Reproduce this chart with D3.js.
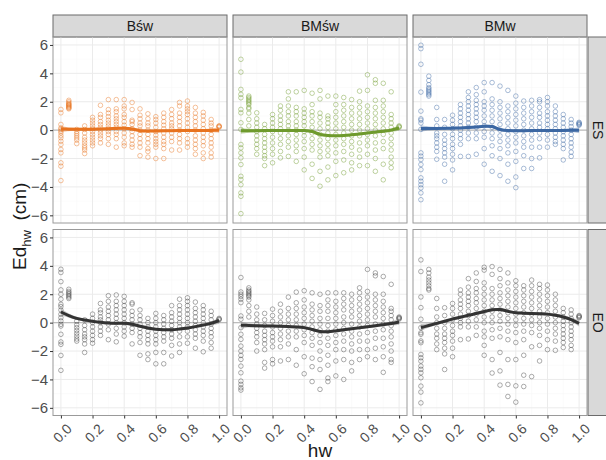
<!DOCTYPE html>
<html>
<head>
<meta charset="utf-8">
<script src="https://cdn.jsdelivr.net/npm/d3@7"></script>
<style>
  body { margin: 0; background: #fff; }
  svg { font-family: "Liberation Sans", Arial, sans-serif; }
</style>
</head>
<body>
<div id="chart"></div>
<script>
// hw positions of the measurement columns
const hw = [0, 0.05, 0.1, 0.15, 0.2, 0.25, 0.3, 0.35, 0.4, 0.45, 0.5,
  0.55, 0.6, 0.65, 0.7, 0.75, 0.8, 0.85, 0.9, 0.95, 1.0];

const colLabels = ["Bśw", "BMśw", "BMw"];
const rowLabels = ["ES", "EO"];
const xTicks = [0, 0.2, 0.4, 0.6, 0.8, 1.0];
const yTicks = [-6, -4, -2, 0, 2, 4, 6];

// Ed_hw values per hw column
const esBsw = [
  [1.46, 1.22, 0.4, 0.16, 0.05, -0.07, -0.19, -0.38, -0.54, -0.78, -1.01, -1.36, -1.6, -2.3, -2.54, -3.55],
  [1.5, 1.55, 1.6, 1.65, 1.7, 1.75, 1.8, 1.85, 1.9, 2.0, 2.1],
  [0.05, -0.1, -0.25, -0.4, -0.55, -0.7, -0.95],
  [0.3, 0.05, -0.2, -0.5, -0.7, -0.9, -1.1, -1.25, -1.4, -1.65],
  [0.9, 0.7, 0.5, 0.3, 0.1, -0.1, -0.3, -0.5, -0.7, -0.9, -1.1],
  [1.75, 1.1, 0.9, 0.6, 0.4, 0.2, 0, -0.2, -0.4, -0.6, -0.9],
  [2.15, 1.45, 1.2, 0.95, 0.7, 0.5, 0.3, 0.1, -0.1, -0.3, -0.6, -1.0],
  [2.15, 1.5, 1.3, 1.0, 0.8, 0.6, 0.4, 0.2, -0.1, -0.3, -0.6, -1.2],
  [2.15, 1.7, 1.5, 1.1, 0.9, 0.6, 0.35, 0.1, -0.2, -0.5, -0.9, -1.1],
  [1.95, 1.45, 0.7, 0.6, 0.4, 0.1, -0.1, -0.4, -0.7, -1.0, -1.2],
  [1.5, 1.05, 0.8, 0.5, 0.3, 0, -0.3, -0.6, -0.9, -1.2, -1.8],
  [1.15, 0.8, 0.5, 0.3, 0, -0.3, -0.6, -0.9, -1.3, -1.5, -1.9],
  [0.95, 0.75, 0.5, 0.2, -0.1, -0.35, -0.6, -0.8, -1.0, -1.2, -2.0],
  [1.2, 0.9, 0.6, 0.35, 0.1, -0.2, -0.5, -0.8, -1.0, -1.3, -2.0],
  [1.45, 1.1, 0.8, 0.5, 0.3, 0.1, -0.2, -0.5, -0.8, -1.4],
  [1.95, 1.7, 1.2, 0.9, 0.6, 0.3, 0, -0.3, -0.6, -0.9, -1.4],
  [2.05, 1.7, 1.5, 1.3, 1.1, 0.8, 0.5, 0.2, -0.1, -0.6, -0.9, -1.2],
  [1.6, 1.2, 0.9, 0.6, 0.3, 0, -0.4, -0.7, -1.0, -1.3, -1.7],
  [1.25, 1.0, 0.7, 0.4, 0.1, -0.2, -0.5, -0.8, -1.1, -1.6, -2.0],
  [0.75, 0.5, 0.3, 0, -0.3, -0.6, -0.9, -1.2, -1.6, -1.9],
  [0.2, 0.25, 0.3, 0.28]
];
const esBMsw = [
  [4.99, 4.09, 2.87, 2.52, 2.28, 1.46, 1.22, 0.52, 0.05, -1.01, -1.25, -1.6, -1.95, -2.42, -3.25, -3.48, -3.84, -4.42, -4.66, -5.88],
  [2.4, 2.3, 2.2, 2.1, 2.0, 1.9, 1.8, 1.6, 1.5, 1.2, 0.75, 0.3],
  [1.22, 0.8, 0.5, 0.2, -0.1, -0.4, -0.7, -1.0, -1.3, -1.7],
  [0.4, 0.1, -0.3, -0.6, -0.9, -1.2, -1.5, -1.8, -2.0, -2.5],
  [1.1, 0.8, 0.5, 0.2, -0.1, -0.5, -0.9, -1.3, -1.7, -2.3],
  [1.7, 1.4, 1.0, 0.7, 0.4, 0.1, -0.2, -0.6, -1.0, -1.5, -1.95],
  [2.7, 2.2, 1.7, 1.3, 1.0, 0.6, 0.3, 0, -0.4, -0.8, -1.2, -1.85],
  [2.7, 1.6, 1.3, 1.0, 0.6, 0.3, 0, -0.3, -0.7, -1.1, -1.5, -2.2],
  [2.8, 1.5, 1.2, 0.9, 0.6, 0.3, -0.1, -0.4, -0.8, -1.3, -1.9, -2.8],
  [2.6, 1.8, 1.3, 1.0, 0.6, 0.2, -0.2, -0.6, -1.0, -1.4, -2.4, -3.4],
  [2.8, 2.2, 1.2, 0.9, 0.5, 0.1, -0.3, -0.7, -1.1, -1.5, -1.9, -2.9, -3.95],
  [2.4, 1.0, 0.8, 0.5, 0.2, -0.2, -0.6, -1.0, -1.4, -1.8, -2.6, -3.5],
  [2.4, 1.8, 1.3, 0.9, 0.5, 0.1, -0.3, -0.7, -1.1, -1.6, -2.2, -3.2],
  [2.3, 1.8, 1.4, 1.0, 0.6, 0.2, -0.2, -0.6, -1.0, -1.5, -2.1, -3.0],
  [2.15, 1.6, 1.2, 0.8, 0.4, 0, -0.4, -0.8, -1.2, -1.7, -2.3, -2.8],
  [2.75, 2.0, 1.6, 1.2, 0.8, 0.4, 0, -0.4, -0.9, -1.4, -1.9, -2.5],
  [3.9, 2.8, 1.7, 1.3, 0.9, 0.5, 0.1, -0.3, -0.7, -1.1, -1.7, -2.5],
  [3.55, 3.3, 2.1, 1.6, 1.2, 0.8, 0.4, 0, -0.4, -0.9, -1.4, -2.0, -2.9],
  [3.3, 2.1, 1.7, 1.3, 0.9, 0.5, 0.1, -0.3, -0.8, -1.3, -2.4, -3.5],
  [2.7, 1.1, 0.8, 0.5, 0.2, -0.2, -0.6, -1.0, -1.4, -1.9, -2.3, -2.65],
  [0.2, 0.25, 0.3]
];
const esBMw = [
  [5.98, 5.74, 4.64, 2.68, 1.34, 0.8, 0.7, 0.5, 0.05, -1.6, -1.83, -2.07, -2.42, -2.78, -3.36, -3.6, -3.84, -4.07, -4.42, -4.9],
  [3.8, 3.5, 3.2, 3.0, 2.9, 2.8, 2.7, 2.6, 2.5, 2.4],
  [1.6, 0.75, 0.3, -0.2, -0.4, -0.6, -0.9, -1.2, -1.5, -2.05],
  [0.75, 0.2, -0.3, -0.7, -1.0, -1.3, -1.6, -1.9, -2.4, -3.6],
  [1.05, 0.7, 0.4, 0.1, -0.3, -0.6, -1.0, -1.3, -1.7, -2.1, -2.8],
  [1.8, 1.5, 1.2, 0.9, 0.6, 0.3, 0, -0.3, -0.6, -1.0, -1.85],
  [2.7, 2.3, 2.0, 1.7, 1.4, 1.1, 0.8, 0.5, 0.2, -0.2, -0.6, -1.85],
  [3.0, 2.5, 2.1, 1.8, 1.5, 1.2, 0.9, 0.6, 0.2, -0.2, -0.6, -1.7],
  [3.35, 2.7, 2.0, 1.7, 1.4, 1.0, 0.6, 0.3, -0.1, -0.5, -1.3, -2.4],
  [3.35, 2.2, 1.8, 1.4, 1.0, 0.6, 0.2, -0.2, -0.6, -1.1, -1.8, -2.9],
  [3.1, 2.0, 1.6, 1.2, 0.8, 0.4, 0, -0.4, -0.8, -1.3, -2.0, -3.2],
  [2.8, 1.7, 1.3, 0.9, 0.5, 0.1, -0.3, -0.7, -1.1, -1.6, -2.4, -3.6],
  [2.4, 1.9, 1.5, 1.1, 0.7, 0.3, -0.1, -0.5, -0.9, -1.5, -2.2, -3.3, -4.05],
  [2.05, 1.6, 1.2, 0.8, 0.4, 0, -0.4, -0.8, -1.2, -1.8, -2.7],
  [2.1, 1.7, 1.3, 0.9, 0.5, 0.1, -0.3, -0.7, -1.2, -2.0, -2.7],
  [2.15, 2.0, 1.6, 1.2, 0.9, 0.5, 0.2, -0.2, -0.6, -1.2, -1.95],
  [2.3, 2.0, 1.7, 1.3, 1.0, 0.7, 0.4, 0.1, -0.3, -0.7, -1.2],
  [1.7, 1.3, 1.0, 0.7, 0.4, 0.1, -0.2, -0.5, -0.8, -1.0],
  [1.1, 0.8, 0.5, 0.2, -0.1, -0.4, -0.7, -1.0, -1.3, -2.1],
  [0.75, 0.5, 0.25, 0, -0.3, -0.6, -0.9, -1.2, -1.55, -1.85],
  [0.35, 0.4, 0.45, 0.5, 0.55]
];
const eoBsw = [
  [3.76, 3.53, 2.89, 2.31, 2.0, 1.65, 1.29, 1.13, 0.89, 0.59, 0.35, 0.12, -0.12, -0.24, -0.82, -1.36, -1.53, -2.31, -3.36],
  [1.7, 1.8, 1.9, 2.0, 2.1, 2.2, 2.35],
  [0.1, -0.15, -0.35, -0.55, -0.75, -0.95, -1.15, -1.3],
  [0.2, -0.2, -0.5, -0.8, -1.0, -1.2, -1.5, -2.1],
  [0.6, 0.3, 0, -0.3, -0.6, -0.9, -1.2, -1.45],
  [1.35, 0.9, 0.7, 0.4, 0.2, 0, -0.3, -0.6, -0.9],
  [1.9, 1.5, 1.1, 0.8, 0.5, 0.2, -0.1, -0.5, -1.2],
  [1.95, 1.5, 1.2, 0.9, 0.6, 0.3, 0, -0.4, -0.8, -1.35],
  [1.85, 1.5, 1.2, 0.9, 0.6, 0.3, 0, -0.3, -0.6, -0.95],
  [1.4, 1.3, 0.8, 0.5, 0.2, -0.1, -0.4, -0.7, -1.5],
  [0.9, 0.5, 0.2, -0.1, -0.4, -0.7, -1.0, -1.4, -2.3],
  [0.3, 0, -0.3, -0.6, -0.9, -1.2, -1.5, -2.2, -2.6],
  [0.65, 0.3, 0, -0.3, -0.6, -0.9, -1.2, -1.5, -2.1, -2.9],
  [0.5, 0.2, -0.1, -0.4, -0.7, -1.0, -1.3, -2.1, -2.9],
  [1.2, 0.7, 0.4, 0.1, -0.2, -0.5, -0.8, -1.1, -1.6, -2.35],
  [1.65, 1.2, 0.9, 0.6, 0.3, 0, -0.3, -0.6, -1.0, -1.5, -2.1],
  [1.75, 1.5, 1.2, 0.9, 0.6, 0.3, 0, -0.3, -0.6, -1.0, -1.45],
  [1.45, 1.0, 0.7, 0.4, 0.1, -0.2, -0.5, -0.8, -1.1, -1.8],
  [1.2, 0.9, 0.6, 0.3, 0, -0.3, -0.6, -0.9, -1.3, -2.05],
  [0.8, 0.5, 0.2, -0.1, -0.4, -0.7, -1.0, -1.4, -1.8],
  [0.2, 0.25, 0.3]
];
const eoBMsw = [
  [3.18, 2.16, 2.0, 1.84, 1.65, 1.41, 0.47, 0.24, -0.35, -0.82, -1.18, -1.65, -2.0, -2.31, -2.59, -3.06, -3.53, -4.12, -4.35, -4.59, -4.75],
  [2.45, 2.3, 2.2, 2.1, 2.0, 1.9, 1.8, 1.6, 1.2, 0.8, 0.4],
  [1.1, 0.6, 0.2, -0.1, -0.4, -0.7, -1.0, -1.4, -2.0],
  [0.65, 0.2, -0.2, -0.6, -0.9, -1.2, -1.5, -1.9, -2.8, -3.2],
  [0.95, 0.5, 0.1, -0.3, -0.7, -1.0, -1.3, -1.7, -2.6, -2.9],
  [1.3, 0.8, 0.4, 0, -0.4, -0.8, -1.2, -1.7, -2.7],
  [1.8, 1.0, 0.6, 0.2, -0.2, -0.6, -1.0, -1.5, -2.6],
  [2.15, 1.4, 1.0, 0.6, 0.2, -0.2, -0.6, -1.0, -1.9, -3.0],
  [2.25, 1.6, 1.1, 0.7, 0.3, -0.1, -0.5, -0.9, -1.4, -2.4, -3.6],
  [2.1, 1.3, 0.9, 0.5, 0.1, -0.3, -0.7, -1.1, -1.6, -2.5, -3.1, -4.15],
  [2.0, 1.2, 0.8, 0.3, -0.1, -0.5, -0.9, -1.4, -2.0, -2.6, -3.3, -4.7],
  [2.1, 1.6, 1.2, 0.8, 0.3, -0.2, -0.6, -1.1, -1.6, -2.3, -3.0, -3.9, -4.15],
  [2.1, 1.5, 1.1, 0.7, 0.3, -0.1, -0.5, -0.9, -1.4, -1.9, -2.7, -3.75],
  [2.1, 1.7, 1.3, 0.9, 0.4, 0, -0.4, -0.8, -1.3, -1.9, -2.6, -4.0],
  [2.0, 1.6, 1.2, 0.8, 0.4, -0.1, -0.6, -1.0, -1.5, -2.0, -2.8, -3.4],
  [2.45, 2.1, 1.7, 1.3, 0.9, 0.5, 0.1, -0.3, -0.8, -1.3, -1.9, -2.6],
  [3.75, 2.2, 1.8, 1.4, 1.0, 0.6, 0.2, -0.2, -0.7, -1.3, -1.9, -2.4],
  [3.5, 3.3, 2.0, 1.6, 1.2, 0.8, 0.4, -0.1, -0.6, -1.1, -1.8, -2.6],
  [3.25, 2.0, 1.5, 1.1, 0.7, 0.3, -0.1, -0.5, -1.1, -1.7, -2.4, -3.5],
  [2.7, 1.0, 0.8, 0.5, 0.2, -0.2, -0.6, -1.0, -1.5, -2.0, -2.6, -2.8],
  [0.25, 0.3, 0.35, 0.4]
];
const eoBMw = [
  [4.42, 3.6, 1.81, 1.06, 0.24, -0.35, -0.71, -0.82, -1.29, -1.41, -2.24, -2.47, -2.71, -3.06, -3.29, -3.53, -3.88, -4.47, -4.89, -5.65],
  [3.75, 3.5, 3.2, 3.0, 2.8, 2.6, 2.4, 2.3],
  [1.7, 1.0, 0.4, 0, -0.4, -0.8, -1.1, -1.5, -1.9],
  [1.05, 0.5, 0, -0.4, -0.8, -1.1, -1.4, -1.8, -2.2, -3.3],
  [1.35, 1.0, 0.6, 0.2, -0.2, -0.6, -0.9, -1.3, -1.8, -2.4],
  [2.3, 2.0, 1.6, 1.3, 1.0, 0.6, 0.3, 0, -0.3, -1.2],
  [3.1, 2.5, 2.1, 1.8, 1.5, 1.2, 0.8, 0.5, 0.1, -0.3, -1.15],
  [3.5, 2.9, 2.4, 2.1, 1.7, 1.4, 1.0, 0.6, 0.2, -0.3, -0.9],
  [3.9, 3.7, 2.8, 2.4, 2.0, 1.6, 1.2, 0.8, 0.4, 0, -0.6, -1.0, -1.6, -2.3],
  [3.95, 3.4, 2.4, 2.0, 1.6, 1.2, 0.8, 0.4, 0, -0.5, -1.1, -2.6, -3.55],
  [3.75, 3.1, 2.6, 2.1, 1.7, 1.3, 0.9, 0.5, 0.1, -0.4, -1.0, -2.1, -3.4, -4.4],
  [3.5, 2.8, 2.3, 1.9, 1.5, 1.1, 0.7, 0.3, -0.1, -0.6, -1.2, -2.6, -4.35, -5.2],
  [2.95, 2.6, 2.2, 1.8, 1.4, 1.0, 0.6, 0.2, -0.2, -0.7, -1.4, -2.6, -4.45, -5.6],
  [2.6, 2.3, 1.9, 1.5, 1.1, 0.7, 0.3, -0.1, -0.6, -1.2, -2.3, -3.7, -4.5],
  [3.0, 2.6, 2.2, 1.8, 1.4, 1.0, 0.6, 0.2, -0.2, -0.7, -1.7, -3.8],
  [2.7, 2.4, 2.0, 1.6, 1.2, 0.8, 0.4, 0, -0.4, -0.9, -1.6, -2.7],
  [2.65, 2.3, 1.9, 1.5, 1.1, 0.7, 0.3, -0.1, -0.6, -1.2, -1.9],
  [2.0, 1.6, 1.2, 0.8, 0.4, 0, -0.4, -0.8, -1.3, -1.95],
  [1.0, 0.7, 0.4, 0.1, -0.2, -0.5, -0.8, -1.1, -1.4, -1.75],
  [0.9, 0.6, 0.3, 0, -0.3, -0.6, -0.9, -1.2, -1.6, -1.9],
  [0.35, 0.4, 0.45, 0.5]
];

// loess fits, one value per hw column
const fitEsBsw = [0.08, 0.07, 0.06, 0.06, 0.07, 0.08, 0.1, 0.12, 0.13, 0.08, -0.04, -0.06, -0.06, -0.05, -0.04, -0.03, -0.03, -0.03, -0.03, -0.02, 0.0];
const fitEsBMsw = [-0.05, -0.05, -0.04, -0.03, -0.02, -0.02, -0.02, -0.02, -0.03, -0.1, -0.3, -0.38, -0.4, -0.38, -0.33, -0.27, -0.2, -0.14, -0.08, 0.0, 0.15];
const fitEsBMw = [0.12, 0.12, 0.12, 0.13, 0.14, 0.15, 0.18, 0.22, 0.27, 0.25, 0.05, -0.03, -0.04, -0.04, -0.03, -0.02, -0.02, -0.02, -0.02, -0.01, 0.0];
const fitEoBsw = [0.75, 0.5, 0.3, 0.18, 0.1, 0.02, -0.03, -0.05, -0.05, -0.12, -0.25, -0.38, -0.47, -0.5, -0.5, -0.45, -0.38, -0.28, -0.17, -0.05, 0.15];
const fitEoBMsw = [-0.18, -0.2, -0.22, -0.23, -0.24, -0.26, -0.28, -0.3, -0.35, -0.48, -0.62, -0.64, -0.58, -0.5, -0.43, -0.36, -0.29, -0.22, -0.14, -0.06, 0.05];
const fitEoBMw = [-0.35, -0.2, -0.05, 0.1, 0.25, 0.38, 0.52, 0.64, 0.78, 0.9, 0.92, 0.8, 0.7, 0.67, 0.65, 0.63, 0.6, 0.52, 0.4, 0.22, -0.05];

// half-width of the confidence band per hw column
const seEs = [0.22, 0.14, 0.11, 0.1, 0.09, 0.09, 0.09, 0.09, 0.1, 0.1, 0.1, 0.09, 0.09, 0.09, 0.09, 0.09, 0.09, 0.09, 0.1, 0.13, 0.2];
const seEo = [0.25, 0.15, 0.12, 0.1, 0.1, 0.1, 0.1, 0.1, 0.11, 0.11, 0.11, 0.1, 0.1, 0.1, 0.1, 0.1, 0.1, 0.1, 0.11, 0.14, 0.22];

const panels = [
  { row: 0, col: 0, pts: esBsw, fit: fitEsBsw, se: seEs, color: "#E8731F" },
  { row: 0, col: 1, pts: esBMsw, fit: fitEsBMsw, se: seEs, color: "#6E9A2C" },
  { row: 0, col: 2, pts: esBMw, fit: fitEsBMw, se: seEs, color: "#3B67A3" },
  { row: 1, col: 0, pts: eoBsw, fit: fitEoBsw, se: seEo, color: "#333333" },
  { row: 1, col: 1, pts: eoBMsw, fit: fitEoBMsw, se: seEo, color: "#333333" },
  { row: 1, col: 2, pts: eoBMw, fit: fitEoBMw, se: seEo, color: "#333333" }
];

const width = 606;
const height = 460;
const colX = [53, 233, 413];
const rowY = [37, 229.5];
const panelW = 174;
const panelH = 186;

const svg = d3
  .select("#chart")
  .append("svg")
  .attr("width", width)
  .attr("height", height);

const xScale = d3.scaleLinear().domain([-0.05, 1.05]).range([0, panelW]);
const yScale = d3.scaleLinear().domain([-6.54, 6.56]).range([panelH, 0]);

// column strips
colLabels.forEach((lab, c) => {
  const g = svg.append("g").attr("transform", `translate(${colX[c]},15)`);
  g.append("rect")
    .attr("width", panelW)
    .attr("height", 22)
    .attr("fill", "#d9d9d9")
    .attr("stroke", "#6b6b6b")
    .attr("stroke-width", 1);
  g.append("text")
    .attr("x", panelW / 2)
    .attr("y", 16)
    .attr("text-anchor", "middle")
    .attr("font-size", 14)
    .attr("fill", "#1a1a1a")
    .text(lab);
});

// row strips
rowLabels.forEach((lab, r) => {
  const g = svg.append("g").attr("transform", `translate(588,${rowY[r]})`);
  g.append("rect")
    .attr("width", 24)
    .attr("height", panelH)
    .attr("fill", "#d9d9d9")
    .attr("stroke", "#6b6b6b")
    .attr("stroke-width", 1);
  g.append("text")
    .attr("transform", `translate(5,${panelH / 2}) rotate(90)`)
    .attr("text-anchor", "middle")
    .attr("font-size", 14)
    .attr("fill", "#1a1a1a")
    .text(lab);
});

const line = d3
  .line()
  .x((d, i) => xScale(hw[i]))
  .y((d) => yScale(d))
  .curve(d3.curveCatmullRom);

const band = d3
  .area()
  .x((d) => xScale(d.x))
  .y0((d) => yScale(d.y - d.se))
  .y1((d) => yScale(d.y + d.se))
  .curve(d3.curveCatmullRom);

panels.forEach((p) => {
  const g = svg
    .append("g")
    .attr("transform", `translate(${colX[p.col]},${rowY[p.row]})`);

  // grid
  const minorX = [0.1, 0.3, 0.5, 0.7, 0.9];
  const minorY = [-5, -3, -1, 1, 3, 5];
  g.selectAll(".mx").data(minorX).enter().append("line")
    .attr("x1", (d) => xScale(d)).attr("x2", (d) => xScale(d))
    .attr("y1", 0).attr("y2", panelH)
    .attr("stroke", "#f6f6f6").attr("stroke-width", 0.5);
  g.selectAll(".my").data(minorY).enter().append("line")
    .attr("y1", (d) => yScale(d)).attr("y2", (d) => yScale(d))
    .attr("x1", 0).attr("x2", panelW)
    .attr("stroke", "#f6f6f6").attr("stroke-width", 0.5);
  g.selectAll(".gx").data(xTicks).enter().append("line")
    .attr("x1", (d) => xScale(d)).attr("x2", (d) => xScale(d))
    .attr("y1", 0).attr("y2", panelH)
    .attr("stroke", "#ebebeb").attr("stroke-width", 1);
  g.selectAll(".gy").data(yTicks).enter().append("line")
    .attr("y1", (d) => yScale(d)).attr("y2", (d) => yScale(d))
    .attr("x1", 0).attr("x2", panelW)
    .attr("stroke", "#ebebeb").attr("stroke-width", 1);

  // zero reference
  g.append("line")
    .attr("x1", 0).attr("x2", panelW)
    .attr("y1", yScale(0)).attr("y2", yScale(0))
    .attr("stroke", "#bdbdbd").attr("stroke-width", 1.2);

  // points
  const flat = [];
  p.pts.forEach((col, i) => col.forEach((v) => flat.push({ x: hw[i], y: v })));
  g.append("g")
    .selectAll("circle")
    .data(flat)
    .enter()
    .append("circle")
    .attr("cx", (d) => xScale(d.x))
    .attr("cy", (d) => yScale(d.y))
    .attr("r", 2.3)
    .attr("fill", "none")
    .attr("stroke", p.color)
    .attr("stroke-opacity", p.row === 0 ? 0.55 : 0.5)
    .attr("stroke-width", 0.8);

  // smooth + band
  const bandData = p.fit.map((y, i) => ({ x: hw[i], y: y, se: p.se[i] }));
  g.append("path")
    .attr("d", band(bandData))
    .attr("fill", p.row === 0 ? p.color : "#666")
    .attr("fill-opacity", 0.35);
  g.append("path")
    .attr("d", line(p.fit))
    .attr("fill", "none")
    .attr("stroke", p.color)
    .attr("stroke-width", 3);

  // border
  g.append("rect")
    .attr("width", panelW)
    .attr("height", panelH)
    .attr("fill", "none")
    .attr("stroke", "#9a9a9a")
    .attr("stroke-width", 1);

  // y axis on first column
  if (p.col === 0) {
    const ya = g.append("g").call(d3.axisLeft(yScale).tickValues(yTicks).tickSize(3).tickPadding(2));
    ya.select(".domain").remove();
    ya.selectAll("line").attr("stroke", "#333");
    ya.selectAll("text").attr("font-size", 15).attr("fill", "#4d4d4d")
      .attr("font-family", "Liberation Sans, Arial, sans-serif");
  }

  // x axis on bottom row
  if (p.row === 1) {
    const xa = g.append("g")
      .attr("transform", `translate(0,${panelH})`)
      .call(d3.axisBottom(xScale).tickValues(xTicks).tickSize(3).tickFormat(d3.format(".1f")));
    xa.select(".domain").remove();
    xa.selectAll("line").attr("stroke", "#333");
    xa.selectAll("text")
      .attr("font-size", 14)
      .attr("fill", "#4d4d4d")
      .attr("font-family", "Liberation Sans, Arial, sans-serif")
      .attr("text-anchor", "end")
      .attr("dy", null)
      .attr("y", 0)
      .attr("transform", "translate(4,7) rotate(-45)")
      .attr("dominant-baseline", "hanging");
  }
});

// axis titles
svg.append("text")
  .attr("x", (colX[0] + colX[2] + panelW) / 2)
  .attr("y", 457)
  .attr("text-anchor", "middle")
  .attr("font-size", 19)
  .attr("fill", "#1a1a1a")
  .text("hw");

const yt = svg.append("text")
  .attr("transform", `translate(26,${(rowY[0] + rowY[1] + panelH) / 2}) rotate(-90)`)
  .attr("text-anchor", "middle")
  .attr("font-size", 19)
  .attr("fill", "#1a1a1a");
yt.append("tspan").text("Ed");
yt.append("tspan").attr("font-size", 13).attr("dy", 5).text("hw");
yt.append("tspan").attr("dy", -5).text("\u2002(cm)");
</script>
</body>
</html>
